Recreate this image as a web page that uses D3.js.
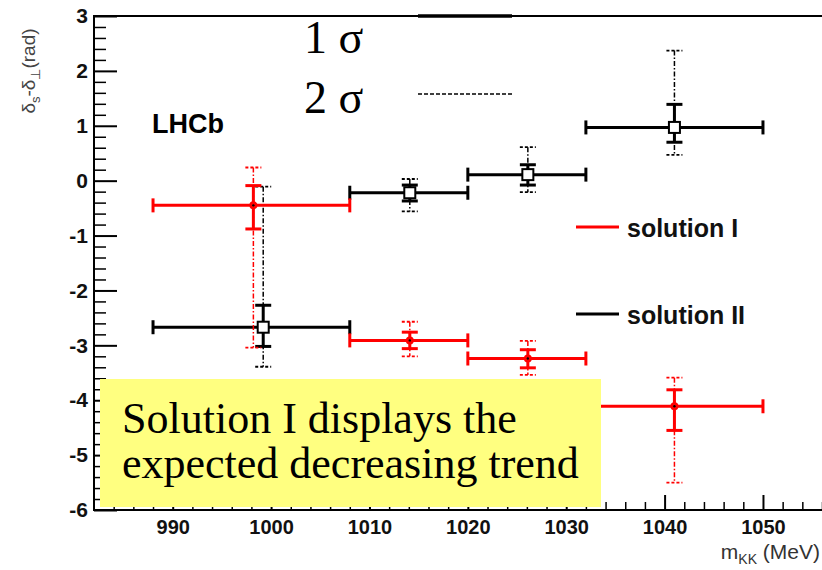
<!DOCTYPE html>
<html>
<head>
<meta charset="utf-8">
<script src="https://cdn.jsdelivr.net/npm/d3@7"></script>
<style>
  body { margin: 0; background: #fff; }
  svg { display: block; }
</style>
</head>
<body>
<svg id="chart" width="822" height="570"></svg>
<script>
// Bins in m_KK (MeV)
const binLow  = [988, 1008, 1020, 1032];
const binHigh = [1008, 1020, 1032, 1050];

// Solution I (red): central value, 1 sigma and 2 sigma interval limits
const massI    = [998.2, 1014.1, 1026.1, 1041.0];
const solI     = [-0.45, -2.91, -3.24, -4.11];
const solI1Hi  = [-0.09, -2.76, -3.08, -3.81];
const solI1Lo  = [-0.88, -3.06, -3.41, -4.55];
const solI2Hi  = [0.24, -2.57, -2.92, -3.59];
const solI2Lo  = [-3.04, -3.20, -3.54, -5.50];

// Solution II (black)
const massII   = [999.2, 1014.1, 1026.1, 1041.0];
const solII    = [-2.67, -0.22, 0.11, 0.97];
const solII1Hi = [-2.27, -0.08, 0.29, 1.39];
const solII1Lo = [-3.02, -0.37, -0.08, 0.70];
const solII2Hi = [-0.11, 0.03, 0.61, 2.37];
const solII2Lo = [-3.39, -0.56, -0.21, 0.47];

// Axis ticks
const xMajor = [990, 1000, 1010, 1020, 1030, 1040, 1050];
const yMajor = [-6, -5, -4, -3, -2, -1, 0, 1, 2, 3];

const svg = d3.select("#chart");
const W = 822;
const frameLeft = 94, frameTop = 16, frameBottom = 510;

const x = d3.scaleLinear().domain([982, 1056]).range([frameLeft, W]);
const y = d3.scaleLinear().domain([-6, 3]).range([frameBottom, frameTop]);

const sans = "Liberation Sans, Arial, Helvetica, sans-serif";
const serif = "Liberation Serif, Times New Roman, serif";

// ---- axes ----
const xMinor = d3.range(984, 1057, 2).filter(v => v % 10 !== 0);
const yMinor = d3.range(-60, 31, 2).map(v => v / 10).filter(v => Math.abs(v - Math.round(v)) > 1e-6);

const gx = svg.append("g").attr("transform", `translate(0,${frameBottom})`);
gx.call(d3.axisBottom(x).tickValues(xMajor).tickSizeInner(-15).tickSizeOuter(0)
  .tickPadding(10).tickFormat(d => String(d)));
gx.select(".domain").remove();
gx.selectAll("line").attr("stroke", "#000").attr("stroke-width", 2);
gx.selectAll("text").attr("font-family", sans).attr("font-size", 20)
  .attr("font-weight", "bold").attr("fill", "#111");

const gxm = svg.append("g").attr("transform", `translate(0,${frameBottom})`);
gxm.call(d3.axisBottom(x).tickValues(xMinor).tickSizeInner(-8).tickSizeOuter(0).tickFormat(""));
gxm.select(".domain").remove();
gxm.selectAll("line").attr("stroke", "#000").attr("stroke-width", 1.5);

const gy = svg.append("g").attr("transform", `translate(${frameLeft},0)`);
gy.call(d3.axisLeft(y).tickValues(yMajor).tickSizeInner(-23).tickSizeOuter(0)
  .tickPadding(6).tickFormat(d => String(d)));
gy.select(".domain").remove();
gy.selectAll("line").attr("stroke", "#000").attr("stroke-width", 2);
gy.selectAll("text").attr("font-family", sans).attr("font-size", 21)
  .attr("font-weight", "bold").attr("fill", "#111");

const gym = svg.append("g").attr("transform", `translate(${frameLeft},0)`);
gym.call(d3.axisLeft(y).tickValues(yMinor).tickSizeInner(-12).tickSizeOuter(0).tickFormat(""));
gym.select(".domain").remove();
gym.selectAll("line").attr("stroke", "#000").attr("stroke-width", 1.5);

// frame
svg.append("path")
  .attr("d", `M${W},${frameTop}H${frameLeft}V${frameBottom}H${W}`)
  .attr("fill", "none").attr("stroke", "#000").attr("stroke-width", 2);

// axis titles
const yt = svg.append("text")
  .attr("transform", "translate(35,71) rotate(-90)").attr("text-anchor", "middle")
  .attr("font-family", sans).attr("font-size", 19).attr("fill", "#444");
yt.append("tspan").text("δ");
yt.append("tspan").attr("font-size", 13).attr("dy", 5).text("s");
yt.append("tspan").attr("dy", -5).text("-δ");
yt.append("tspan").attr("font-size", 13).attr("dy", 5).text("⊥");
yt.append("tspan").attr("dy", -5).text("(rad)");

const xt = svg.append("text")
  .attr("x", 820).attr("y", 559).attr("text-anchor", "end")
  .attr("font-family", sans).attr("font-size", 21).attr("fill", "#333");
xt.append("tspan").text("m");
xt.append("tspan").attr("font-size", 14).attr("dy", 5).text("KK");
xt.append("tspan").attr("dy", -5).text(" (MeV)");

// ---- data series ----
function drawSeries(color, mass, val, hi1, lo1, hi2, lo2, square) {
  const g = svg.append("g");
  const capW = 8, endH = 7;
  mass.forEach((m, i) => {
    const cx = x(m), cy = y(val[i]);
    // 2 sigma interval (dash-dot)
    g.append("line").attr("x1", cx).attr("x2", cx).attr("y1", y(hi2[i])).attr("y2", y(lo2[i]))
      .attr("stroke", color).attr("stroke-width", 1.5).attr("stroke-dasharray", "5,2,1.5,2");
    [hi2[i], lo2[i]].forEach(v => {
      g.append("line").attr("x1", cx - capW).attr("x2", cx + capW).attr("y1", y(v)).attr("y2", y(v))
        .attr("stroke", color).attr("stroke-width", 1.8).attr("stroke-dasharray", "3,2");
    });
    // bin width
    g.append("line").attr("x1", x(binLow[i])).attr("x2", x(binHigh[i])).attr("y1", cy).attr("y2", cy)
      .attr("stroke", color).attr("stroke-width", 3);
    [binLow[i], binHigh[i]].forEach(b => {
      g.append("line").attr("x1", x(b)).attr("x2", x(b)).attr("y1", cy - endH).attr("y2", cy + endH)
        .attr("stroke", color).attr("stroke-width", 3);
    });
    // 1 sigma interval
    g.append("line").attr("x1", cx).attr("x2", cx).attr("y1", y(hi1[i])).attr("y2", y(lo1[i]))
      .attr("stroke", color).attr("stroke-width", 3);
    [hi1[i], lo1[i]].forEach(v => {
      g.append("line").attr("x1", cx - capW).attr("x2", cx + capW).attr("y1", y(v)).attr("y2", y(v))
        .attr("stroke", color).attr("stroke-width", 3);
    });
    // marker
    if (square) {
      g.append("rect").attr("x", cx - 5.5).attr("y", cy - 5.5).attr("width", 11).attr("height", 11)
        .attr("fill", "#fff").attr("stroke", color).attr("stroke-width", 2);
    } else {
      g.append("circle").attr("cx", cx).attr("cy", cy).attr("r", 4).attr("fill", color);
      g.append("circle").attr("cx", cx).attr("cy", cy).attr("r", 1.2).attr("fill", "#000");
    }
  });
}

drawSeries("#000", massII, solII, solII1Hi, solII1Lo, solII2Hi, solII2Lo, true);
drawSeries("#ff0000", massI, solI, solI1Hi, solI1Lo, solI2Hi, solI2Lo, false);

// ---- legends ----
svg.append("text").attr("x", 152).attr("y", 133)
  .attr("font-family", sans).attr("font-size", 27).attr("font-weight", "bold").text("LHCb");

const sigmaLabels = ["1 σ", "2 σ"];
const sigmaY = [16, 94];
sigmaLabels.forEach((t, i) => {
  svg.append("text").attr("x", 304).attr("y", [53, 113][i])
    .attr("font-family", serif).attr("font-size", 46).text(t);
  svg.append("line").attr("x1", 418).attr("x2", 512).attr("y1", sigmaY[i]).attr("y2", sigmaY[i])
    .attr("stroke", "#000").attr("stroke-width", i === 0 ? 3.5 : 1.5)
    .attr("stroke-dasharray", i === 0 ? null : "4,2");
});

const legendNames = ["solution I", "solution II"];
const legendColors = ["#ff0000", "#000"];
const legendY = [227, 314];
legendNames.forEach((t, i) => {
  svg.append("line").attr("x1", 576).attr("x2", 619).attr("y1", legendY[i]).attr("y2", legendY[i])
    .attr("stroke", legendColors[i]).attr("stroke-width", 3);
  svg.append("text").attr("x", 627).attr("y", legendY[i] + 9.5)
    .attr("font-family", sans).attr("font-size", 25).attr("font-weight", "bold")
    .attr("fill", "#111").text(t);
});

// ---- annotation box ----
svg.append("rect").attr("x", 100).attr("y", 379).attr("width", 501).attr("height", 128)
  .attr("fill", "#ffff80");
const note = svg.append("text").attr("font-family", serif).attr("font-size", 44).attr("fill", "#000");
note.append("tspan").attr("x", 122).attr("y", 433).text("Solution I displays the");
note.append("tspan").attr("x", 122).attr("y", 478).text("expected decreasing trend");
</script>
</body>
</html>
